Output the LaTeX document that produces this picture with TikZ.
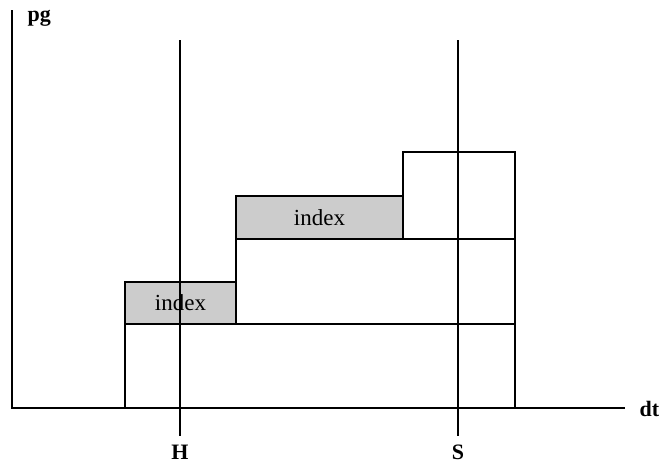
\documentclass[tikz,border=0pt]{standalone}
\usepackage{fontspec}
\setmainfont{Liberation Serif}
\begin{document}
\begin{tikzpicture}[x=1pt, y=-1pt, font=\fontsize{23}{26}\selectfont,
  block/.style={draw, rectangle, line width=1.3pt, inner sep=0pt, outer sep=0pt},
  idx/.style={block, fill=black!20},
  mark line/.style={line width=2.4pt},
  lbl/.style={font=\bfseries\fontsize{22}{25}\selectfont}]
\useasboundingbox (0,0) rectangle (660,464);
% boxes
\node[block, minimum width=390, minimum height=84] (base) at (320, 366) {};
\node[idx, minimum width=111, minimum height=42] (idxL) at (180.5, 303) {index};
\node[block, minimum width=279, minimum height=85] (mid) at (375.5, 281.5) {};
\node[idx, minimum width=167, minimum height=43] (idxR) at (319.5, 217.5) {index};
\node[block, minimum width=112, minimum height=87] (top) at (459, 195.5) {};
% axes
\coordinate (origin) at (12, 408);
\coordinate (ytop) at (12, 10);
\coordinate (xend) at (625, 408);
\draw[line width=1.6pt] (ytop) -- (origin) -- (xend);
\node[lbl, anchor=west] (pg) at (24, 18) {pg};
\node[lbl, anchor=west] (dt) at (636, 409) {dt};
% time marks
\coordinate (Htop) at (180, 40);
\coordinate (Hbot) at (180, 436);
\coordinate (Stop) at (458, 40);
\coordinate (Sbot) at (458, 436);
\draw[mark line] (Htop) -- (Hbot);
\draw[mark line] (Stop) -- (Sbot);
\node[lbl] (H) at (180, 452) {H};
\node[lbl] (S) at (458, 452) {S};
\end{tikzpicture}
\end{document}
